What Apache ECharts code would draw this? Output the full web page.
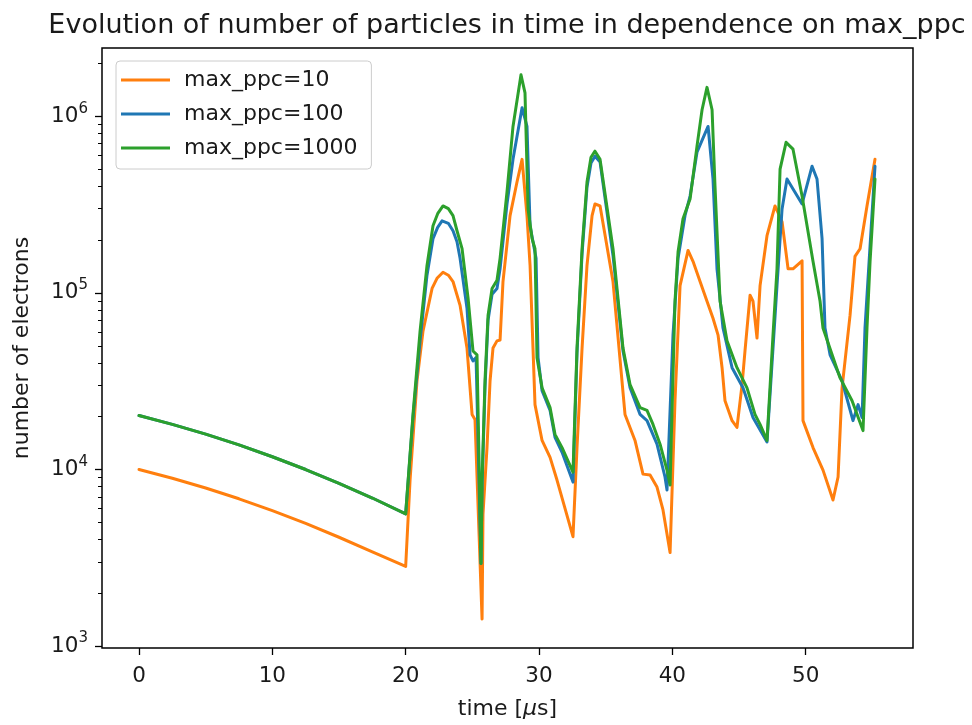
<!DOCTYPE html>
<html>
<head>
<meta charset="utf-8">
<script src="https://cdn.jsdelivr.net/npm/echarts@6/dist/echarts.min.js"></script>
<style>
html,body{margin:0;padding:0;background:#fff;}
#chart{width:972px;height:725px;}
</style>
</head>
<body>
<div id="chart"></div>
<script>
// ---- data (time in microseconds, number of electrons) ----
const t10 = [0,2.5,5,7.5,10,12.5,15,17.5,20.0,20.33,20.85,21.3,21.98,22.35,22.8,23.2,23.55,24.08,24.6,24.98,25.2,25.73,25.8,26.1,26.33,26.55,26.85,27.08,27.3,27.83,28.35,28.73,29.1,29.33,29.55,29.7,30.23,30.83,31.35,32.55,32.85,33.23,33.6,33.98,34.2,34.58,35.55,36.45,37.2,37.8,38.33,38.85,39.3,39.83,40.2,40.58,41.18,41.55,42.08,42.6,43.05,43.43,43.73,43.95,44.48,44.85,45.23,45.45,45.83,46.05,46.35,46.58,47.1,47.7,48.23,48.68,49.05,49.73,49.8,50.55,51.3,52.05,52.43,52.73,53.33,53.7,54.08,54.6,55.2];
const n10 = [10000,8920,7850,6820,5840,4950,4130,3410,2820,8710,31800,60800,106000,121000,131000,126000,116000,85000,48700,20500,19200,1420,5600,13300,31800,48700,53500,54100,116000,274000,425000,571000,274000,143000,48700,23300,14600,11700,8710,4160,13300,48700,143000,274000,319000,311000,116000,20500,14600,9410,9290,7950,5900,3380,24500,110000,174000,151000,116000,89700,71900,57700,37700,24500,18900,17300,30200,46900,97000,89700,55500,110000,211000,311000,253000,137000,137000,152000,18900,13300,9910,6710,9060,29000,74800,161000,178000,311000,571000];

const t100 = [0,2.5,5,7.5,10,12.5,15,17.5,20.0,20.55,21.08,21.6,22.05,22.4,22.73,23.2,23.55,23.85,24.08,24.6,24.83,25.05,25.28,25.65,25.73,25.95,26.18,26.48,26.85,27.08,27.6,28.05,28.73,29.1,29.33,29.55,29.78,29.93,30.23,30.83,31.2,31.73,32.55,32.85,33.23,33.6,33.9,34.2,34.58,35.55,36.3,36.83,37.58,38.1,38.85,39.45,39.6,40.05,40.43,40.95,41.33,41.85,42.68,43.05,43.35,43.8,44.48,45.3,46.05,47.1,47.85,48.23,48.6,49.73,50.48,50.85,51.23,51.45,51.83,52.73,53.55,53.93,54.23,54.45,54.83,55.2];
const n100 = [20200,18010,15860,13770,11800,9990,8350,6890,5605,19700,53500,126000,203000,235000,256000,248000,225000,195000,157000,81800,44600,41200,43000,2930,7950,29000,70200,98200,106000,137000,319000,571000,1120000,877000,240000,195000,157000,42900,27900,21600,15200,12500,8480,45600,167000,398000,545000,594000,551000,163000,46900,29000,20500,18900,13900,9060,7650,57700,157000,274000,354000,627000,877000,442000,137000,63300,37700,29000,19700,14300,110000,299000,442000,319000,522000,442000,203000,63300,44600,31800,18900,23300,19700,63300,185000,522000];

const t1000 = [0,2.5,5,7.5,10,12.5,15,17.5,20.0,20.55,21.08,21.6,22.05,22.4,22.8,23.2,23.55,23.85,24.23,24.68,25.05,25.35,25.65,25.73,25.95,26.18,26.48,26.85,27.08,27.6,28.05,28.65,28.95,29.18,29.48,29.7,29.85,30.23,30.83,31.2,31.73,32.55,32.85,33.23,33.6,33.9,34.2,34.58,35.55,36.3,36.83,37.58,38.1,38.55,39.08,39.6,39.83,40.2,40.43,40.8,41.33,41.85,42.23,42.6,42.98,43.2,43.58,44.1,44.85,45.6,46.2,46.58,47.1,47.55,47.85,48.08,48.53,49.05,49.73,50.55,51.08,51.3,52.58,53.48,54.3,54.6,54.83,55.2];
const n1000 = [20200,18010,15860,13770,11800,9990,8350,6890,5605,20500,60800,143000,240000,281000,311000,300000,274000,225000,178000,93300,46900,44600,2930,8710,31800,74800,106000,118000,157000,373000,877000,1720000,1360000,299000,203000,178000,42900,29000,22400,15800,13300,9660,48700,178000,425000,587000,635000,571000,178000,48700,30200,22400,21600,18000,13900,9910,8170,89700,171000,263000,340000,678000,1090000,1460000,1090000,403000,89700,53500,37700,29000,20500,18000,14600,57700,137000,503000,713000,652000,354000,151000,89700,63300,33000,24500,16600,63300,151000,442000];

const seriesNames = ['max_ppc=10', 'max_ppc=100', 'max_ppc=1000'];
const xTicks = [0, 10, 20, 30, 40, 50];
const yMajorTicks = [1000, 10000, 100000, 1000000];
const yMinorTicks = [2000,3000,4000,5000,6000,7000,8000,9000,
                     20000,30000,40000,50000,60000,70000,80000,90000,
                     200000,300000,400000,500000,600000,700000,800000,900000,
                     2000000];

function zip(t, n) {
  const len = Math.min(t.length, n.length);
  const out = [];
  for (let i = 0; i < len; i++) out.push([t[i], n[i]]);
  return out;
}

const FONT = 'DejaVu Sans';
const TXT = '#1a1a1a';
const COLORS = ['#ff7f0e', '#1f77b4', '#2ca02c'];
const chart = echarts.init(document.getElementById('chart'), null, {renderer: 'canvas'});

function lineSeries(i, t, n) {
  return {
    name: seriesNames[i], type: 'line', data: zip(t, n), yAxisIndex: 0,
    symbol: 'none', showSymbol: false, smooth: false, clip: true,
    lineStyle: {color: COLORS[i], width: 3, cap: 'round', join: 'round'},
    itemStyle: {color: COLORS[i]}, emphasis: {disabled: true}
  };
}

const option = {
  animation: false,
  backgroundColor: '#ffffff',
  title: {
    text: 'Evolution of number of particles in time in dependence on max_ppc',
    left: 507,
    textAlign: 'center',
    top: 12,
    padding: 0,
    textStyle: {fontFamily: FONT, fontSize: 27, fontWeight: 'normal', color: TXT}
  },
  grid: {
    left: 102, right: 59, top: 48, bottom: 73,
    show: true, borderColor: '#000', borderWidth: 1.5, backgroundColor: '#fff',
    containLabel: false
  },
  legend: {
    orient: 'vertical',
    left: 116, top: 61,
    itemWidth: 49, itemHeight: 3, itemGap: 12,
    padding: [8, 14, 10, 5],
    borderColor: '#cccccc', borderWidth: 1, borderRadius: 4,
    backgroundColor: 'rgba(255,255,255,0.8)',
    textStyle: {fontFamily: FONT, fontSize: 22, color: TXT, padding: [0, 0, 0, 9]},
    data: seriesNames.map(function (nm, i) {
      return {name: nm, icon: 'rect', itemStyle: {color: COLORS[i]}};
    })
  },
  xAxis: {
    type: 'value',
    min: -2.775, max: 58.05,
    name: 'time [{i|μ}s]',
    nameLocation: 'middle',
    nameGap: 50,
    nameTextStyle: {fontFamily: FONT, fontSize: 22, color: TXT,
      rich: {i: {fontFamily: FONT, fontSize: 22, fontStyle: 'italic', color: TXT}}},
    axisLine: {show: false, onZero: false},
    splitLine: {show: false},
    axisTick: {show: true, length: 7, lineStyle: {color: '#000', width: 1.3}, customValues: xTicks},
    axisLabel: {fontFamily: FONT, fontSize: 21.5, color: TXT, margin: 17, customValues: xTicks}
  },
  yAxis: [{
    type: 'log',
    logBase: 10,
    min: 974, max: 2440000,
    name: 'number of electrons',
    nameLocation: 'middle',
    nameGap: 69,
    nameRotate: 90,
    nameTextStyle: {fontFamily: FONT, fontSize: 22, color: TXT},
    axisLine: {show: false, onZero: false},
    splitLine: {show: false},
    axisTick: {show: true, length: 7, lineStyle: {color: '#000', width: 1.3}, customValues: yMajorTicks},
    axisLabel: {
      margin: 14,
      customValues: yMajorTicks,
      formatter: function (v) {
        const e = Math.round(Math.log10(v));
        return '{b|10}{s|' + e + '}';
      },
      rich: {
        b: {fontFamily: FONT, fontSize: 21.5, color: TXT, lineHeight: 30, verticalAlign: 'middle'},
        s: {fontFamily: FONT, fontSize: 15, color: TXT, verticalAlign: 'top'}
      }
    }
  }, {
    type: 'log',
    logBase: 10,
    min: 974, max: 2440000,
    position: 'left',
    axisLine: {show: false, onZero: false},
    splitLine: {show: false},
    axisLabel: {show: false},
    axisTick: {show: true, length: 4, lineStyle: {color: '#000', width: 1}, customValues: yMinorTicks}
  }],
  series: [
    lineSeries(0, t10, n10),
    lineSeries(1, t100, n100),
    lineSeries(2, t1000, n1000)
  ]
};
chart.setOption(option);
</script>
</body>
</html>
